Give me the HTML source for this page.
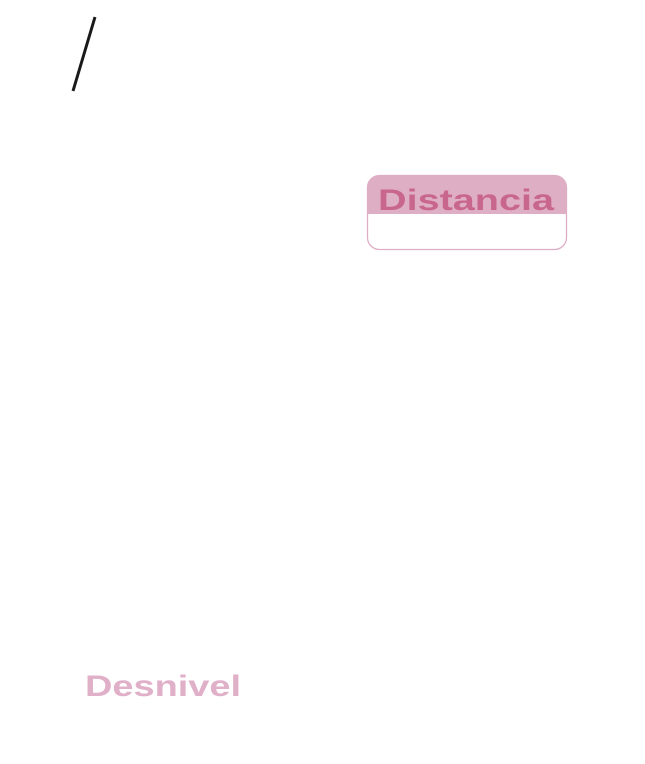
<!DOCTYPE html>
<html><head><meta charset="utf-8"><style>
html,body{margin:0;padding:0;background:#fff;width:645px;height:764px;overflow:hidden}
</style></head><body>
<svg width="645" height="764" viewBox="0 0 645 764" xmlns="http://www.w3.org/2000/svg">
<line x1="95" y1="17" x2="73" y2="91" stroke="#1a1a1a" stroke-width="3"/>
<defs><clipPath id="c"><rect x="367.5" y="175.5" width="199" height="74" rx="12"/></clipPath></defs>
<rect x="367.5" y="175.5" width="199" height="74" rx="12" fill="#fff"/>
<rect x="367" y="175" width="200" height="39" fill="#deaec5" clip-path="url(#c)"/>
<rect x="367.5" y="175.5" width="199" height="74" rx="12" fill="none" stroke="#deaec5" stroke-width="1.3"/>
<text x="378" y="210" font-family="Liberation Sans, sans-serif" font-weight="bold" font-size="30" fill="#c9668e" textLength="176" lengthAdjust="spacingAndGlyphs">Distancia</text>
<text x="85" y="696" font-family="Liberation Sans, sans-serif" font-weight="bold" font-size="30" fill="#e0afc8" textLength="156" lengthAdjust="spacingAndGlyphs">Desnivel</text>
</svg>
</body></html>
